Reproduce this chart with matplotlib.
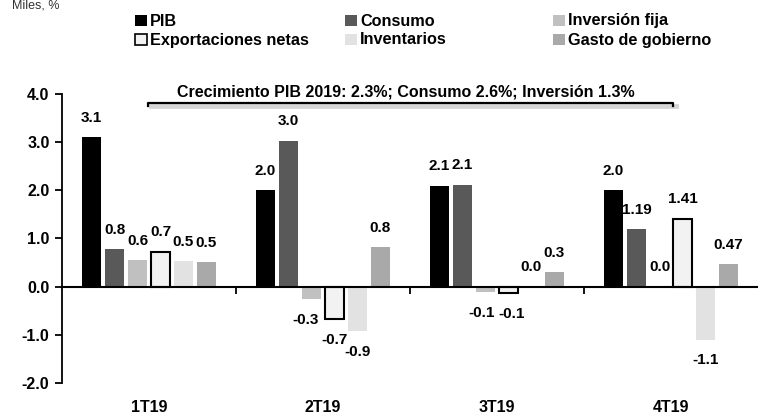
import numpy as np
import matplotlib.pyplot as plt
from matplotlib.patches import Rectangle
from matplotlib.transforms import blended_transform_factory

plt.rcParams['font.family'] = ['Liberation Sans', 'DejaVu Sans']
plt.rcParams['font.weight'] = 'bold'

# datos
trimestres = ['1T19', '2T19', '3T19', '4T19']
series = ['PIB', 'Consumo', 'Inversión fija', 'Exportaciones netas', 'Inventarios', 'Gasto de gobierno']
pib = [3.1, 2.0, 2.1, 2.0]
consumo = [0.78, 3.03, 2.12, 1.19]
inversion = [0.55, -0.25, -0.12, 0.0]
exportaciones = [0.73, -0.68, -0.13, 1.41]
inventarios = [0.53, -0.92, 0.0, -1.1]
gasto = [0.51, 0.82, 0.3, 0.47]
etiquetas = [
    ['3.1', '2.0', '2.1', '2.0'],
    ['0.8', '3.0', '2.1', '1.19'],
    ['0.6', '-0.3', '-0.1', '0.0'],
    ['0.7', '-0.7', '-0.1', '1.41'],
    ['0.5', '-0.9', '0.0', '-1.1'],
    ['0.5', '0.8', '0.3', '0.47'],
]
nota = 'Crecimiento PIB 2019: 2.3%; Consumo 2.6%; Inversión 1.3%'

valores = [pib, consumo, inversion, exportaciones, inventarios, gasto]
colores = ['#000000', '#595959', '#c0c0c0', '#f2f2f2', '#e2e2e2', '#a9a9a9']
bordes = ['none', 'none', 'none', '#000000', 'none', 'none']
# pequeños desplazamientos horizontales de algunas etiquetas (pt)
ajuste_x = {(2, 1): -4, (2, 2): -3, (3, 2): 2}

fig = plt.figure(figsize=(7.58, 4.15), dpi=100)
ax = fig.add_axes([62 / 758, 1 - 383 / 415, 696 / 758, (383 - 94) / 415])

x = np.arange(len(trimestres))
paso = 0.132
ancho = 0.108
for i, vals in enumerate(valores):
    pos = x + (i - 2.5) * paso
    ax.bar(pos, vals, width=ancho, color=colores[i], edgecolor=bordes[i],
           linewidth=1.5 if bordes[i] != 'none' else 0, zorder=2)
    for j, (p, v, t) in enumerate(zip(pos, vals, etiquetas[i])):
        dy = 14 if v >= 0 else -15
        dx = ajuste_x.get((i, j), 0)
        ax.annotate(t, (p, v), xytext=(dx, dy), textcoords='offset points',
                    ha='center', va='center', fontsize=11, fontweight='bold')

ax.set_xlim(-0.5, 3.5)
ax.set_ylim(-2, 4)
ax.set_yticks(np.arange(-2, 4.1, 1))
ax.set_yticklabels([f'{v:.1f}' for v in np.arange(-2, 4.1, 1)])
ax.tick_params(axis='y', direction='out', length=5, width=1.3, labelsize=11.5, pad=4)

for s in ['top', 'right']:
    ax.spines[s].set_visible(False)
ax.spines['left'].set_linewidth(1.3)
ax.spines['bottom'].set_position(('data', 0))
ax.spines['bottom'].set_linewidth(1.5)
ax.set_xticks([0.5, 1.5, 2.5])
ax.set_xticklabels([])
ax.tick_params(axis='x', direction='out', length=5, width=1.3)

trans = blended_transform_factory(ax.transData, ax.transAxes)
for xi, t in zip(x, trimestres):
    ax.text(xi, -0.085, t, transform=trans, ha='center', va='center', fontsize=11.5, fontweight='bold')

# nota con línea subrayada y sombra
ax.text(1.477, 4.04, nota, ha='center', va='center', fontsize=11.5, fontweight='bold', clip_on=False)
tr2 = fig.transFigure
fig.lines.append(plt.Line2D([151 / 758, 676 / 758], [1 - 106 / 415, 1 - 106 / 415],
                            color='#d6d6d6', lw=3.5, transform=tr2))
fig.lines.append(plt.Line2D([148 / 758, 148 / 758, 673 / 758, 673 / 758],
                            [1 - 106 / 415, 1 - 103 / 415, 1 - 103 / 415, 1 - 106 / 415],
                            color='black', lw=1.6, transform=tr2))

# leyenda
col_x = [135, 345, 553]
fila_y = [21, 40]
for i, nombre in enumerate(series):
    cx = col_x[i % 3]
    cy = fila_y[i // 3]
    fig.patches.append(Rectangle((cx / 758, 1 - (cy + 5.5) / 415), 12 / 758, 11 / 415,
                                 facecolor=colores[i], edgecolor='black' if bordes[i] != 'none' else 'none',
                                 lw=1.2, transform=tr2))
    fig.text((cx + 15) / 758, 1 - cy / 415, nombre, ha='left', va='center', fontsize=11.7, fontweight='bold')

fig.text(12 / 758, 1 - 5 / 415, 'Miles, %', ha='left', va='center', fontsize=9, fontweight='normal', color='#333333')

fig.savefig('out.png', dpi=100)
